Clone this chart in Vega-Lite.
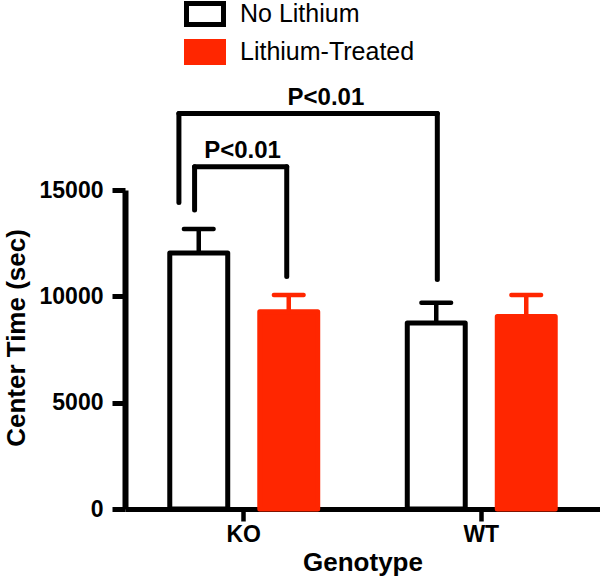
{
  "$schema": "https://vega.github.io/schema/vega-lite/v6.json",
  "width": 475,
  "height": 319,
  "autosize": {"type": "none"},
  "padding": {"left": 125, "top": 190, "right": 0, "bottom": 68},
  "config": {
    "view": {"stroke": null},
    "font": "Liberation Sans",
    "axis": {
      "grid": false, "domainColor": "black", "domainWidth": 6, "tickColor": "black", "tickWidth": 5,
      "labelColor": "black", "labelFontWeight": "bold", "labelFontSize": 23,
      "titleColor": "black", "titleFontWeight": "bold", "titleFontSize": 26
    }
  },
  "datasets": {
    "bars": [
      {"Genotype": "KO", "Treatment": "No Lithium", "Mean": 12040, "Upper": 13164},
      {"Genotype": "KO", "Treatment": "Lithium-Treated", "Mean": 9271, "Upper": 10061},
      {"Genotype": "WT", "Treatment": "No Lithium", "Mean": 8745, "Upper": 9699},
      {"Genotype": "WT", "Treatment": "Lithium-Treated", "Mean": 9050, "Upper": 10061}
    ],
    "brackets": [
      {"x": 0.727, "x2": 1.815, "y": 18594, "y2": 18594},
      {"x": 0.727, "x2": 0.727, "y": 14410, "y2": 18594},
      {"x": 1.815, "x2": 1.815, "y": 10790, "y2": 18594},
      {"x": 0.793, "x2": 1.181, "y": 16093, "y2": 16093},
      {"x": 0.793, "x2": 0.793, "y": 14057, "y2": 16093},
      {"x": 1.181, "x2": 1.181, "y": 10931, "y2": 16093}
    ],
    "labels": [
      {"x": 1.346, "y": 18994, "text": "P<0.01"},
      {"x": 0.995, "y": 16488, "text": "P<0.01"}
    ]
  },
  "layer": [
    {
      "data": {"name": "bars"},
      "layer": [
        {
          "mark": {"type": "bar", "strokeWidth": 5, "strokeJoin": "round"},
          "encoding": {
            "x": {
              "field": "Genotype", "type": "nominal", "title": "Genotype",
              "scale": {"paddingInner": 0, "paddingOuter": 0},
              "axis": {
                "labelAngle": 0, "labelPadding": 20, "labelBaseline": "alphabetic",
                "tickSize": 12, "tickWidth": 4.5, "domainWidth": 5,
                "titleBaseline": "alphabetic", "titleY": 61
              }
            },
            "xOffset": {
              "field": "Treatment", "type": "nominal",
              "scale": {"domain": ["No Lithium", "Lithium-Treated"], "paddingInner": 0.356, "paddingOuter": 0.4975}
            },
            "y": {
              "field": "Mean", "type": "quantitative", "title": "Center Time (sec)",
              "scale": {"domain": [0, 15000], "nice": false},
              "axis": {
                "values": [0, 5000, 10000, 15000], "format": "d",
                "labelPadding": 9, "tickSize": 13, "tickWidth": 5, "domainWidth": 6,
                "titleX": -109, "titleY": 147.5, "titleBaseline": "middle"
              }
            },
            "fill": {
              "field": "Treatment", "type": "nominal",
              "scale": {"domain": ["No Lithium", "Lithium-Treated"], "range": ["#ffffff", "#ff2600"]},
              "legend": {
                "title": null, "orient": "none", "legendX": 62.5, "legendY": -193.5,
                "symbolType": "M-1.233,-0.7H1.233V0.7H-1.233Z", "symbolSize": 900, "symbolStrokeWidth": 5,
                "labelFontSize": 25, "labelFont": "Liberation Sans", "labelColor": "black", "labelLimit": 0,
                "labelOffset": 17.5, "rowPadding": -4, "padding": 0
              }
            },
            "stroke": {
              "field": "Treatment", "type": "nominal",
              "scale": {"domain": ["No Lithium", "Lithium-Treated"], "range": ["#000000", "#ff2600"]},
              "legend": {
                "title": null, "orient": "none", "legendX": 62.5, "legendY": -193.5,
                "symbolType": "M-1.233,-0.7H1.233V0.7H-1.233Z", "symbolSize": 900, "symbolStrokeWidth": 5,
                "labelFontSize": 25, "labelFont": "Liberation Sans", "labelColor": "black", "labelLimit": 0,
                "labelOffset": 17.5, "rowPadding": -4, "padding": 0
              }
            }
          }
        },
        {
          "mark": {"type": "rule", "strokeWidth": 4.5},
          "encoding": {
            "x": {"field": "Genotype", "type": "nominal", "title": "Genotype"},
            "xOffset": {"field": "Treatment", "type": "nominal", "scale": {"domain": ["No Lithium", "Lithium-Treated"], "paddingInner": 0.356, "paddingOuter": 0.4975}},
            "y": {"field": "Mean", "type": "quantitative", "title": "Center Time (sec)", "scale": {"domain": [0, 15000], "nice": false}},
            "y2": {"field": "Upper"},
            "stroke": {"field": "Treatment", "type": "nominal", "legend": null}
          }
        },
        {
          "mark": {"type": "tick", "size": 34, "thickness": 4.5, "cornerRadius": 2, "opacity": 1},
          "encoding": {
            "x": {"field": "Genotype", "type": "nominal", "title": "Genotype"},
            "xOffset": {"field": "Treatment", "type": "nominal", "scale": {"domain": ["No Lithium", "Lithium-Treated"], "paddingInner": 0.356, "paddingOuter": 0.4975}},
            "y": {"field": "Upper", "type": "quantitative", "title": "Center Time (sec)", "scale": {"domain": [0, 15000], "nice": false}},
            "color": {"field": "Treatment", "type": "nominal", "scale": {"domain": ["No Lithium", "Lithium-Treated"], "range": ["#000000", "#ff2600"]}, "legend": null}
          }
        }
      ]
    },
    {
      "layer": [
        {
          "data": {"name": "brackets"},
          "mark": {"type": "rule", "strokeWidth": 5, "strokeCap": "round", "color": "black"},
          "encoding": {
            "x": {"field": "x", "type": "quantitative", "scale": {"domain": [0.5, 2.5], "nice": false, "zero": false}, "axis": null},
            "x2": {"field": "x2"},
            "y": {"field": "y", "type": "quantitative", "title": "Center Time (sec)", "scale": {"domain": [0, 15000], "nice": false}},
            "y2": {"field": "y2"}
          }
        },
        {
          "data": {"name": "labels"},
          "mark": {"type": "text", "fontSize": 24, "fontWeight": "bold", "baseline": "alphabetic", "align": "center", "color": "black", "font": "Liberation Sans"},
          "encoding": {
            "x": {"field": "x", "type": "quantitative", "scale": {"domain": [0.5, 2.5], "nice": false, "zero": false}, "axis": null},
            "y": {"field": "y", "type": "quantitative", "title": "Center Time (sec)", "scale": {"domain": [0, 15000], "nice": false}},
            "text": {"field": "text"}
          }
        }
      ]
    }
  ],
  "resolve": {"scale": {"x": "independent"}}
}
